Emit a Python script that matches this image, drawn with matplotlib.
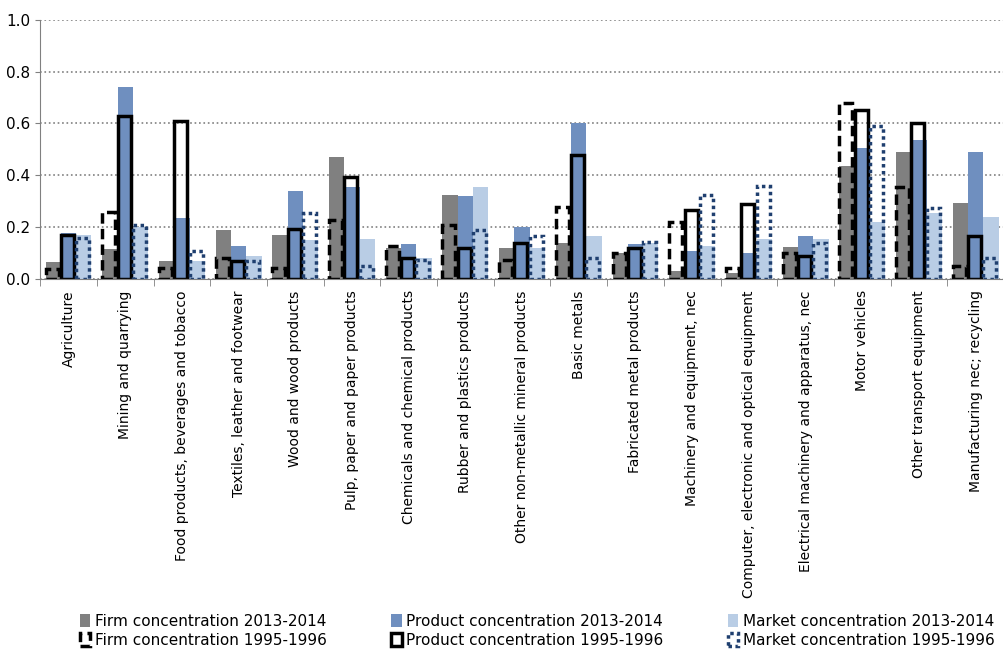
import numpy as np
import matplotlib.pyplot as plt

categories = ["Agriculture", "Mining and quarrying", "Food products, beverages and tobacco",
              "Textiles, leather and footwear", "Wood and wood products",
              "Pulp, paper and paper products", "Chemicals and chemical products",
              "Rubber and plastics products", "Other non-metallic mineral products",
              "Basic metals", "Fabricated metal products", "Machinery and equipment, nec",
              "Computer, electronic and optical equipment",
              "Electrical machinery and apparatus, nec", "Motor vehicles",
              "Other transport equipment", "Manufacturing nec; recycling"]
firm_13 = [0.065, 0.115, 0.07, 0.19, 0.17, 0.47, 0.12, 0.325, 0.12, 0.14, 0.10, 0.03, 0.025, 0.125, 0.435, 0.49, 0.295]
prod_13 = [0.18, 0.74, 0.235, 0.13, 0.34, 0.355, 0.135, 0.32, 0.20, 0.60, 0.135, 0.11, 0.10, 0.165, 0.505, 0.535, 0.49]
mkt_13 = [0.17, 0.20, 0.07, 0.09, 0.15, 0.155, 0.08, 0.355, 0.12, 0.165, 0.14, 0.13, 0.155, 0.155, 0.22, 0.255, 0.24]
firm_95 = [0.04, 0.26, 0.045, 0.08, 0.045, 0.23, 0.13, 0.21, 0.075, 0.28, 0.10, 0.22, 0.045, 0.10, 0.68, 0.355, 0.05]
prod_95 = [0.17, 0.63, 0.61, 0.07, 0.195, 0.395, 0.08, 0.12, 0.14, 0.48, 0.12, 0.265, 0.29, 0.09, 0.65, 0.60, 0.165]
mkt_95 = [0.16, 0.21, 0.11, 0.07, 0.255, 0.05, 0.075, 0.19, 0.165, 0.08, 0.145, 0.325, 0.36, 0.14, 0.59, 0.275, 0.08]

x = np.arange(len(categories))
w = 0.27
fig = plt.figure(figsize=(10.04, 6.54), dpi=100)
ax = fig.add_axes([0.04, 0.573, 0.96, 0.397])
ax.bar(x - w, firm_13, w, color='#808080', label='Firm concentration 2013-2014')
ax.bar(x, prod_13, w, color='#6F8FBF', label='Product concentration 2013-2014')
ax.bar(x + w, mkt_13, w, color='#B9CDE5', label='Market concentration 2013-2014')
ow = w * 0.85
ax.bar(x - w - 0.02, firm_95, ow, fill=False, edgecolor='black', linewidth=2.5, linestyle=(0, (3, 1.5)), label='Firm concentration 1995-1996')
ax.bar(x - 0.02, prod_95, ow, fill=False, edgecolor='black', linewidth=2.5, label='Product concentration 1995-1996')
ax.bar(x + w - 0.02, mkt_95, ow, fill=False, edgecolor='#1F3F6F', linewidth=2.5, linestyle=(0, (1, 1)), label='Market concentration 1995-1996')

ax.set_xlim(-0.5, len(categories) - 0.5)
ax.set_ylim(0, 1.0)
ax.set_yticks(np.arange(0, 1.01, 0.2))
ax.set_yticklabels([f"{v:.1f}" for v in np.arange(0, 1.01, 0.2)], fontsize=11)
ax.yaxis.grid(True, linestyle=':', color='#808080', linewidth=1.2)
ax.set_axisbelow(True)
ax.set_xticks(x)
ax.set_xticklabels(categories, rotation=90, fontsize=10)
ax.set_xticks(np.arange(-0.5, len(categories), 1), minor=True)
ax.tick_params(axis='x', which='major', length=0, pad=8)
ax.tick_params(axis='x', which='minor', length=5, color='#808080')
ax.tick_params(axis='y', color='#808080')
for s in ['top', 'right']:
    ax.spines[s].set_visible(False)
for s in ['left', 'bottom']:
    ax.spines[s].set_color('#808080')

h, l = ax.get_legend_handles_labels()
order = [0, 3, 1, 4, 2, 5]
fig.legend([h[i] for i in order], [l[i] for i in order], ncol=3, loc='lower center',
           bbox_to_anchor=(0.535, -0.012), frameon=False, fontsize=11, handlelength=0.7,
           handleheight=0.9, columnspacing=4.2, handletextpad=0.3, labelspacing=0.3)
fig.savefig('out.png', dpi=100)
